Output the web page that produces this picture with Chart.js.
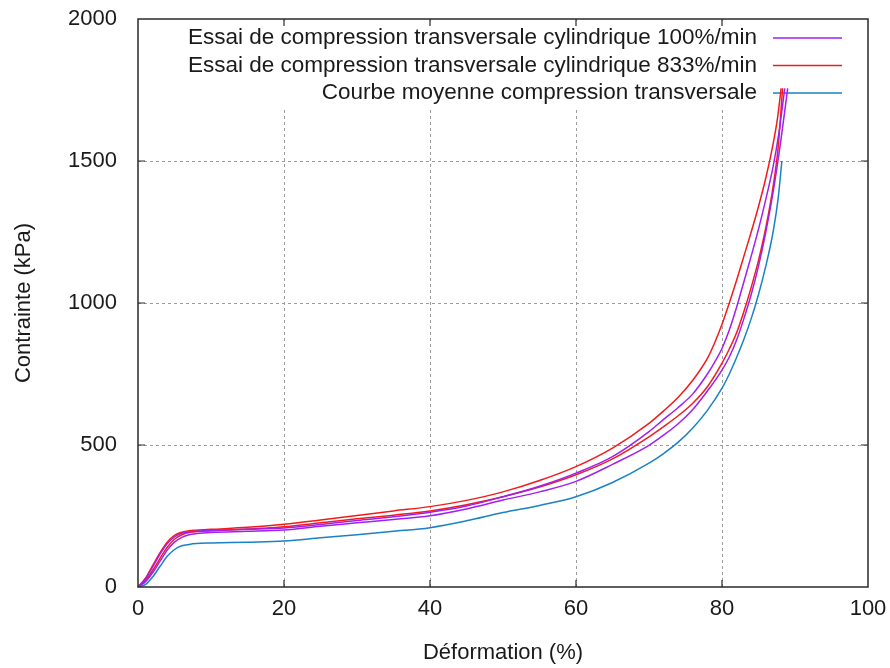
<!DOCTYPE html>
<html>
<head>
<meta charset="utf-8">
<script src="https://cdn.jsdelivr.net/npm/chart.js@4.4.1/dist/chart.umd.min.js"></script>
<style>
  html, body { margin: 0; padding: 0; background: #fff; }
  #wrap { width: 890px; height: 668px; }
</style>
</head>
<body>
<div id="wrap"><canvas id="myChart" width="890" height="668"></canvas></div>
<script>
// axis ticks
const xTicks = [0, 20, 40, 60, 80, 100];
const yTicks = [0, 500, 1000, 1500, 2000];

const legendLabels = [
  "Essai de compression transversale cylindrique 100%/min",
  "Essai de compression transversale cylindrique 833%/min",
  "Courbe moyenne compression transversale",
];

// 100%/min, first specimen
const strainV1 = [0, 1, 2, 3, 4, 5, 6, 7, 8, 10, 15, 20, 25, 30, 35, 40, 45, 50, 55, 60, 65, 70, 72, 74, 76, 78, 79, 80, 81, 82, 83, 84, 85, 86, 87, 87.8, 88.6];
const stressV1 = [0, 28, 70, 115, 152, 176, 189, 194, 196, 199, 203, 208, 220, 234, 247, 263, 285, 318, 355, 401, 459, 547, 590, 632, 680, 750, 792, 840, 905, 985, 1075, 1165, 1260, 1365, 1480, 1600, 1756];

// 100%/min, second specimen
const strainV2 = [0, 1, 2, 3, 4, 5, 6, 7, 8, 10, 15, 20, 25, 30, 35, 40, 45, 50, 55, 60, 65, 70, 72, 74, 76, 78, 80, 81, 82, 83, 84, 85, 86, 87, 88, 89];
const stressV2 = [0, 18, 50, 90, 130, 158, 175, 184, 188, 192, 196, 201, 214, 226, 238, 251, 275, 306, 335, 372, 432, 499, 535, 575, 625, 690, 764, 810, 870, 945, 1030, 1130, 1250, 1390, 1560, 1756];

// 833%/min, first specimen
const strainR1 = [0, 1, 2, 3, 4, 5, 6, 7, 8, 10, 15, 20, 25, 30, 35, 40, 45, 50, 55, 60, 65, 70, 72, 74, 76, 78, 79, 80, 81, 82, 83, 84, 85, 86, 87, 87.6, 88.1];
const stressR1 = [0, 30, 75, 120, 158, 182, 193, 198, 200, 203, 210, 221, 236, 252, 268, 283, 305, 335, 375, 424, 489, 576, 620, 668, 728, 805, 860, 925, 1000, 1080, 1165, 1250, 1340, 1440, 1560, 1650, 1756];

// 833%/min, second specimen
const strainR2 = [0, 1, 2, 3, 4, 5, 6, 7, 8, 10, 15, 20, 25, 30, 35, 40, 45, 50, 55, 60, 65, 70, 72, 74, 76, 78, 80, 81, 82, 83, 84, 85, 86, 87, 87.7, 88.3];
const stressR2 = [0, 22, 58, 100, 140, 168, 184, 192, 195, 198, 204, 212, 226, 240, 253, 268, 290, 318, 352, 395, 451, 529, 565, 603, 647, 705, 788, 838, 895, 970, 1055, 1150, 1265, 1410, 1550, 1756];

// mean curve
const strainMean = [0, 1, 2, 3, 4, 5, 6, 7, 8, 10, 15, 20, 25, 30, 35, 40, 45, 50, 55, 60, 65, 70, 72, 74, 76, 78, 80, 81, 82, 83, 84, 85, 86, 87, 87.7, 88.2];
const stressMean = [0, 8, 35, 72, 108, 132, 145, 150, 153, 155, 158, 162, 173, 184, 196, 209, 233, 262, 287, 318, 368, 436, 470, 510, 560, 622, 700, 750, 808, 872, 945, 1030, 1130, 1250, 1370, 1500];

const violet = "#a020f0";
const red = "#f01c1c";
const blue = "#1a82c4";

const pts = (xs, ys) => xs.map((v, i) => ({ x: v, y: ys[i] }));

const curve = (label, xs, ys, color) => ({
  label: label,
  data: pts(xs, ys),
  borderColor: color,
  backgroundColor: color,
  borderWidth: 1.5,
  pointRadius: 0,
  fill: false,
  cubicInterpolationMode: "monotone",
});

const legendColors = [violet, red, blue];
const FONT = '"Liberation Sans", Arial, sans-serif';

// gnuplot-like frame: dotted grid, opaque key, inward ticks on all sides
const gnuFrame = {
  id: "gnuFrame",
  beforeDatasetsDraw(chart) {
    const { ctx, chartArea: a, scales: { x, y } } = chart;
    ctx.save();
    ctx.strokeStyle = "#9c9c9c";
    ctx.lineWidth = 1;
    ctx.setLineDash([3, 3]);
    xTicks.slice(1, -1).forEach((v) => {
      const px = Math.round(x.getPixelForValue(v)) + 0.5;
      ctx.beginPath(); ctx.moveTo(px, a.bottom); ctx.lineTo(px, a.top); ctx.stroke();
    });
    yTicks.slice(1, -1).forEach((v) => {
      const py = Math.round(y.getPixelForValue(v)) + 0.5;
      ctx.beginPath(); ctx.moveTo(a.left, py); ctx.lineTo(a.right, py); ctx.stroke();
    });
    ctx.setLineDash([]);

    // key
    ctx.fillStyle = "#fff";
    ctx.fillRect(a.left + 40, a.top + 2, a.right - a.left - 44, 86);
    ctx.font = "22.5px " + FONT;
    ctx.textAlign = "right";
    ctx.textBaseline = "middle";
    legendLabels.forEach((t, i) => {
      const yy = a.top + 19 + i * 27.5;
      ctx.fillStyle = "#1a1a1a";
      ctx.fillText(t, a.right - 111, yy);
      ctx.strokeStyle = legendColors[i];
      ctx.lineWidth = 1.5;
      ctx.beginPath(); ctx.moveTo(a.right - 95, yy); ctx.lineTo(a.right - 26, yy); ctx.stroke();
    });
    ctx.restore();
  },
  afterDatasetsDraw(chart) {
    const { ctx, chartArea: a, scales: { x, y } } = chart;
    ctx.save();
    ctx.strokeStyle = "#2a2a2a";
    ctx.lineWidth = 1.5;
    ctx.strokeRect(a.left, a.top, a.right - a.left, a.bottom - a.top);
    ctx.lineWidth = 1.2;
    const tl = 7;
    xTicks.slice(1, -1).forEach((v) => {
      const px = x.getPixelForValue(v);
      ctx.beginPath();
      ctx.moveTo(px, a.bottom); ctx.lineTo(px, a.bottom - tl);
      ctx.moveTo(px, a.top); ctx.lineTo(px, a.top + tl);
      ctx.stroke();
    });
    yTicks.slice(1, -1).forEach((v) => {
      const py = y.getPixelForValue(v);
      ctx.beginPath();
      ctx.moveTo(a.left, py); ctx.lineTo(a.left + tl, py);
      ctx.moveTo(a.right, py); ctx.lineTo(a.right - tl, py);
      ctx.stroke();
    });
    ctx.restore();
  },
};

const ctx = document.getElementById("myChart").getContext("2d");

const chart = new Chart(ctx, {
  type: "line",
  data: {
    datasets: [
      curve(legendLabels[0], strainV1, stressV1, violet),
      curve(legendLabels[0], strainV2, stressV2, violet),
      curve(legendLabels[1], strainR1, stressR1, red),
      curve(legendLabels[1], strainR2, stressR2, red),
      curve(legendLabels[2], strainMean, stressMean, blue),
    ],
  },
  options: {
    responsive: false,
    animation: false,
    devicePixelRatio: 1,
    layout: { padding: { top: 19, right: 22, left: 0, bottom: 0 } },
    plugins: { legend: { display: false }, tooltip: { enabled: false } },
    scales: {
      x: {
        type: "linear",
        min: 0,
        max: 100,
        afterFit: (s) => { s.height = 81; s.paddingLeft = 0; s.paddingRight = 0; },
        afterBuildTicks: (s) => { s.ticks = xTicks.map((v) => ({ value: v })); },
        grid: { display: false, drawTicks: false },
        border: { display: false },
        ticks: {
          color: "#1a1a1a", padding: 9, maxRotation: 0,
          font: { family: FONT, size: 22 },
          callback: (v) => String(v),
        },
        title: {
          display: true,
          text: "Déformation (%)",
          color: "#1a1a1a",
          padding: { top: 0, bottom: 2 },
          font: { family: FONT, size: 22 },
        },
      },
      y: {
        min: 0,
        max: 2000,
        afterFit: (s) => { s.width = 138; s.paddingTop = 0; s.paddingBottom = 0; },
        afterBuildTicks: (s) => { s.ticks = yTicks.map((v) => ({ value: v })); },
        grid: { display: false, drawTicks: false },
        border: { display: false },
        ticks: {
          color: "#1a1a1a", padding: 21,
          font: { family: FONT, size: 22 },
          callback: (v) => String(v),
        },
        title: {
          display: true,
          text: "Contrainte (kPa)",
          color: "#1a1a1a",
          padding: { top: 11, bottom: 0 },
          font: { family: FONT, size: 22 },
        },
      },
    },
  },
  plugins: [gnuFrame],
});
</script>
</body>
</html>
